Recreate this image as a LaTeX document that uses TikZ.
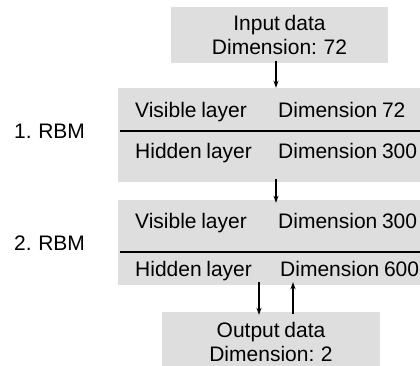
\documentclass[tikz,border=0pt]{standalone}
\usepackage{fontspec}
\setmainfont{Liberation Sans}[WordSpace=0.8]
\usetikzlibrary{positioning,arrows.meta}
\definecolor{boxgray}{HTML}{DEDEDE}
\begin{document}
\begin{tikzpicture}[x=1pt,y=-1pt,font=\fontsize{21}{23.5}\selectfont,
  databox/.style={fill=boxgray,inner sep=0pt,align=center},
  rbmbox/.style={fill=boxgray,inner sep=0pt},
  txt/.style={anchor=base west,inner sep=0pt},
  flow/.style={-{Stealth[length=7pt,width=5pt]},line width=1.2pt}]
\useasboundingbox (0,0) rectangle (420,365);
% data boxes
\node[databox,minimum width=217,minimum height=56](input) at (279.5,35){Input data\\Dimension: 72};
\node[databox,minimum width=218,minimum height=60](output) at (271,342){Output data\\Dimension: 2};
% the two RBMs
\node[rbmbox,minimum width=302,minimum height=94](rbm1) at (269,135){};
\node[rbmbox,minimum width=302,minimum height=85](rbm2) at (269,242.5){};
\draw[line width=1.8pt](120,131)--(420,131);
\draw[line width=1.8pt](120,252)--(420,252);
\node[txt](v1) at (135,117){Visible layer};
\node[txt](d1) at (278,117){Dimension 72};
\node[txt](h1) at (135,158){Hidden layer};
\node[txt](d2) at (278,158){Dimension 300};
\node[txt](v2) at (135,228){Visible layer};
\node[txt](d3) at (278,228){Dimension 300};
\node[txt](h2) at (135,276){Hidden layer};
\node[txt](d4) at (280,276){Dimension 600};
\node[txt](r1) at (14,138){1. RBM};
\node[txt](r2) at (14,250){2. RBM};
% arrows
\draw[flow]([xshift=-3.5,yshift=2]input.south)--([xshift=-3.5]input.south|-rbm1.north);
\draw[flow]([xshift=7,yshift=3]rbm1.south)--([xshift=7,yshift=-3]rbm1.south|-rbm2.north);
\draw[flow]([xshift=-10,yshift=3]rbm2.south)--([xshift=-10,yshift=-3]rbm2.south|-output.north);
\draw[flow]([xshift=24,yshift=-2]rbm2.south|-output.north)--([xshift=24,yshift=3]rbm2.south);
\end{tikzpicture}
\end{document}
